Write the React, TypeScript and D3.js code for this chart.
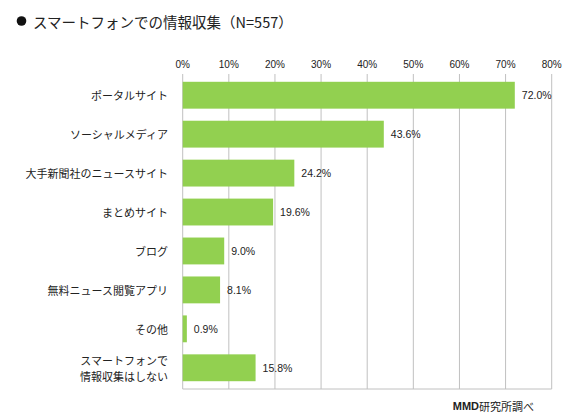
import React from "react";
import * as d3 from "d3";

const categories: string[][] = [
  ["ポータルサイト"],
  ["ソーシャルメディア"],
  ["大手新聞社のニュースサイト"],
  ["まとめサイト"],
  ["ブログ"],
  ["無料ニュース閲覧アプリ"],
  ["その他"],
  ["スマートフォンで", "情報収集はしない"],
];
const values: number[] = [72.0, 43.6, 24.2, 19.6, 9.0, 8.1, 0.9, 15.8];
const ticks: number[] = [0, 10, 20, 30, 40, 50, 60, 70, 80];
const title = "スマートフォンでの情報収集（N=557）";

const W = 567;
const H = 420;
const left = 182.7;
const right = 551.7;
const top = 74;
const bottom = 389;
const jp = "'Noto Sans CJK JP', 'Noto Sans', sans-serif";

export default function App() {
  const x = d3.scaleLinear().domain([0, 80]).range([left, right]);
  const y = d3
    .scaleBand<number>()
    .domain(d3.range(categories.length))
    .range([top, bottom])
    .paddingInner(0.31)
    .paddingOuter(0.2);
  const bw = y.bandwidth();
  return (
    <svg
      width={W}
      height={H}
      style={{ position: "absolute", left: 0, top: 0, background: "#fff" }}
    >
      <rect width={W} height={H} fill="#fff" />
      <circle cx={21.5} cy={21} r={4.8} fill="#111" />
      <text x={33} y={21} dominantBaseline="central" fontSize={14.5} fontFamily={jp} fill="#222">
        {title}
      </text>
      {ticks.map((t) => (
        <g key={t}>
          <line x1={x(t)} x2={x(t)} y1={top} y2={bottom} stroke="#c0c0c0" strokeWidth={1} />
          <text
            x={x(t)}
            y={64}
            textAnchor="middle"
            dominantBaseline="central"
            fontSize={10}
            fontFamily="'Liberation Sans', Arial, sans-serif"
            fill="#222"
          >
            {t}%
          </text>
        </g>
      ))}
      <line x1={left} x2={right} y1={bottom} y2={bottom} stroke="#c0c0c0" strokeWidth={1} />
      {values.map((v, i) => {
        const y0 = y(i) as number;
        const cy = y0 + bw / 2;
        const lines = categories[i];
        return (
          <g key={i}>
            <rect x={x(0)} y={y0} width={x(v) - x(0)} height={bw} fill="#92d050" />
            <text
              x={x(v) + 7}
              y={cy}
              dominantBaseline="central"
              fontSize={10.5}
              fontFamily="'Liberation Sans', Arial, sans-serif"
              fill="#222"
            >
              {v.toFixed(1)}%
            </text>
            {lines.map((l, j) => (
              <text
                key={j}
                x={168}
                y={cy + (j - (lines.length - 1) / 2) * 16}
                textAnchor="end"
                dominantBaseline="central"
                fontSize={11}
                fontFamily={jp}
                fill="#222"
              >
                {l}
              </text>
            ))}
          </g>
        );
      })}
      <text
        x={534}
        y={406}
        textAnchor="end"
        dominantBaseline="central"
        fontSize={11}
        fontFamily={jp}
        fill="#222"
      >
        <tspan fontWeight="bold" fontFamily="'Liberation Sans', Arial, sans-serif">MMD</tspan>
        研究所調べ
      </text>
    </svg>
  );
}
